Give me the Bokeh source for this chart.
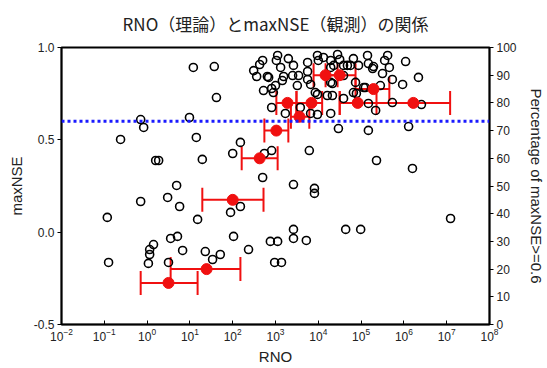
import numpy as np
from bokeh.plotting import figure
from bokeh.models import (ColumnDataSource, Range1d, LinearAxis, FixedTicker,
                          Span, Whisker, TeeHead, PrintfTickFormatter)
from bokeh.embed import file_html
from bokeh.resources import INLINE

# ---- data ----
# individual sites: log10(RNO) and maxNSE
site_log_rno = [
    1.08, 1.57, 1.62, -0.15, -0.08, 0.99, -0.62, 1.15, 2.18, 2.00,
    2.91, 2.74, 0.20, 0.27, 1.29, 2.70, 0.69, -0.15, 0.48, 0.76,
    -0.93, 1.18, 1.95, 2.18, 2.02, 0.71, 0.55, 0.15, 0.06, 0.06,
    0.03, -0.90, 0.50, 0.83, 1.36, 1.71, 1.53, 2.37, 2.88, 3.05,
    2.98, 3.14, 4.47, 5.17, 6.11, 3.79, 5.36, 6.20, 3.42, 3.91,
    3.91, 7.09, 4.64, 4.99, 3.42, 3.42, 3.72, 6.04, 6.34, 5.97,
    5.73, 5.73, 6.41, 5.66, 5.50, 5.29, 5.17, 4.75, 4.59, 4.36,
    4.33, 4.33, 4.87, 5.06, 5.45, 5.17, 4.89, 5.34, 5.62, 5.55,
    2.70, 2.63, 3.05, 3.02, 3.30, 3.75, 3.98, 4.00, 4.12, 4.29,
    4.45, 4.50, 4.68, 4.94, 5.15, 2.49, 2.56, 2.81, 3.12, 3.19,
    3.16, 3.00, 3.40, 3.54, 3.42, 3.75, 3.75, 3.82, 3.51, 4.29,
    4.59, 4.29, 2.72, 3.98, 4.21, 4.82, 5.10, 2.84, 2.95, 3.23,
    3.82, 3.98, 4.29, 3.58, 2.91, 3.93, 2.91, 4.82, 5.27, 4.59,
]
site_maxnse = [
    0.892, 0.897, 0.729, 0.610, 0.567, 0.621, 0.502, 0.513, 0.486, 0.426,
    0.442, 0.426, 0.388, 0.388, 0.394, 0.296, 0.253, 0.166, 0.188, 0.139,
    0.080, 0.069, 0.107, 0.139, -0.023, -0.023, -0.034, -0.067, -0.094, -0.121,
    -0.169, -0.164, -0.164, -0.099, -0.105, -0.121, -0.148, -0.094, -0.050, -0.050,
    -0.164, -0.164, 0.561, 0.551, 0.572, 0.442, 0.388, 0.345, 0.258, 0.237,
    0.210, 0.074, 0.015, 0.015, 0.015, -0.034, -0.045, 0.924, 0.838, 0.800,
    0.827, 0.702, 0.691, 0.892, 0.859, 0.897, 0.913, 0.903, 0.903, 0.903,
    0.805, 0.740, 0.811, 0.783, 0.794, 0.697, 0.751, 0.659, 0.957, 0.930,
    0.930, 0.908, 0.957, 0.930, 0.940, 0.919, 0.957, 0.930, 0.946, 0.930,
    0.962, 0.935, 0.903, 0.903, 0.957, 0.875, 0.843, 0.843, 0.892, 0.843,
    0.821, 0.794, 0.848, 0.848, 0.903, 0.870, 0.827, 0.800, 0.794, 0.892,
    0.848, 0.811, 0.767, 0.746, 0.740, 0.756, 0.783, 0.838, 0.756, 0.643,
    0.643, 0.637, 0.643, 0.675, 0.778, 0.756, 0.675, 0.940, 0.886, 0.724,
]

# binned share of sites with maxNSE >= 0.6 (right axis, %)
bin_log_rno = [0.50, 1.39, 2.00, 2.63, 3.02, 3.28, 3.56, 3.84, 4.17, 4.50, 4.92, 5.29, 6.22]
bin_pct = [15, 20, 45, 60, 70, 80, 75, 80, 90, 90, 80, 85, 80]
bin_log_lo = [-0.15, 0.55, 1.29, 2.21, 2.74, 3.02, 3.36, 3.49, 3.89, 4.17, 4.50, 4.87, 4.50]
bin_log_hi = [1.18, 2.18, 2.72, 3.05, 3.30, 3.49, 3.79, 4.09, 4.45, 4.87, 5.36, 5.66, 7.08]

x_tick_exponents = [-2, -1, 0, 1, 2, 3, 4, 5, 6, 7, 8]
y_ticks = [-0.5, 0.0, 0.5, 1.0]
pct_ticks = [0, 10, 20, 30, 40, 50, 60, 70, 80, 90, 100]
nse_threshold = 0.6

title_text = "RNO（理論）とmaxNSE（観測）の関係"
x_label = "RNO"
y_label = "maxNSE"
y2_label = "Percentage of maxNSE>=0.6"

# ---- build ----
sites = ColumnDataSource(dict(x=np.power(10.0, site_log_rno), y=site_maxnse))
bins = ColumnDataSource(dict(
    x=np.power(10.0, bin_log_rno), y=bin_pct,
    lo=np.power(10.0, bin_log_lo), hi=np.power(10.0, bin_log_hi)))

TICK_FONT = "Liberation Sans"
RED = "#f01010"

p = figure(width=547, height=368, x_axis_type="log",
           x_range=Range1d(10.0 ** x_tick_exponents[0], 10.0 ** x_tick_exponents[-1]),
           y_range=Range1d(y_ticks[0], y_ticks[-1]),
           output_backend="svg", toolbar_location=None,
           min_border_left=61, min_border_right=58,
           min_border_top=47, min_border_bottom=44,
           background_fill_color="white", border_fill_color="white")
p.extra_y_ranges = {"pct": Range1d(pct_ticks[0], pct_ticks[-1])}

p.title.text = title_text
p.title.align = "center"
p.title.vertical_align = "top"
p.title.text_font = "Noto Sans CJK JP"
p.title.text_font_size = "17px"
p.title.text_font_style = "normal"
p.title.text_color = "#222222"
p.title.standoff = 20

p.xgrid.visible = False
p.ygrid.visible = False
p.outline_line_color = "black"
p.outline_line_width = 2
p.outline_line_alpha = 1

# axes
p.xaxis.ticker = FixedTicker(ticks=[10.0 ** k for k in x_tick_exponents])
p.xaxis.axis_label = x_label
p.yaxis.ticker = FixedTicker(ticks=y_ticks)
p.yaxis.formatter = PrintfTickFormatter(format="%.1f")
p.yaxis.axis_label = y_label
y2 = LinearAxis(y_range_name="pct", axis_label=y2_label,
                ticker=FixedTicker(ticks=pct_ticks))
p.add_layout(y2, "right")

for ax in [p.xaxis[0], p.yaxis[0], y2]:
    ax.major_label_text_font = TICK_FONT
    ax.major_label_text_font_size = "12px"
    ax.major_label_text_color = "#222222"
    ax.axis_label_text_font = TICK_FONT
    ax.axis_label_text_font_size = "15px"
    ax.axis_label_text_font_style = "normal"
    ax.axis_label_text_color = "#222222"
    ax.axis_line_color = "black"
    ax.axis_line_width = 1.5
    ax.major_tick_line_color = "black"
    ax.minor_tick_line_color = None
p.xaxis.major_tick_in = 4
p.xaxis.major_tick_out = 0
p.xaxis.major_label_standoff = 3
p.xaxis.axis_label_standoff = 4
p.yaxis.major_tick_in = 0
p.yaxis.major_tick_out = 4
p.yaxis.major_label_standoff = 3
y2.major_tick_in = 0
y2.major_tick_out = 4
p.yaxis.axis_label_standoff = 6
y2.axis_label_standoff = 8

# sites
p.scatter("x", "y", source=sites, size=8, fill_color=None,
          line_color="black", line_width=1.6)

# threshold line
p.add_layout(Span(location=nse_threshold, dimension="width",
                  line_color="#1a1aff", line_width=3, line_dash="3 3"))

# binned percentages with horizontal range bars
wh = Whisker(source=bins, base="y", lower="lo", upper="hi", dimension="width",
             y_range_name="pct", line_color=RED, line_width=2,
             lower_head=TeeHead(size=24, line_color=RED, line_width=2),
             upper_head=TeeHead(size=24, line_color=RED, line_width=2))
p.add_layout(wh)
p.scatter("x", "y", source=bins, y_range_name="pct", size=11,
          fill_color=RED, line_color=RED)

open("out.html", "w").write(file_html(p, INLINE))
